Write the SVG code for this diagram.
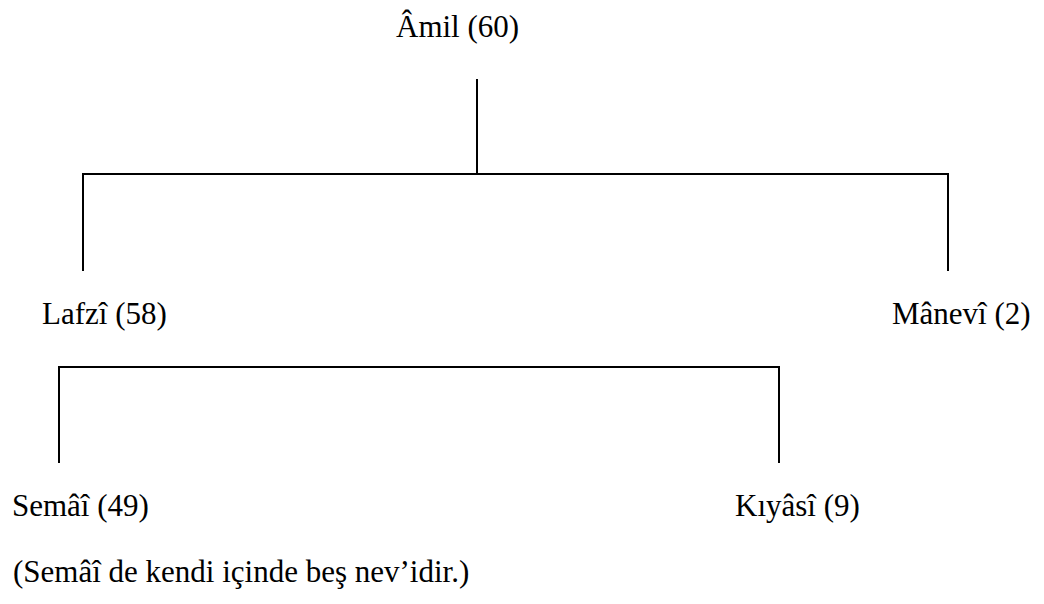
<svg xmlns="http://www.w3.org/2000/svg" width="1044" height="604" viewBox="0 0 1044 604">
<style>
.t{font-family:"Liberation Serif","Times New Roman",serif;font-size:31px;fill:#000}
.c{stroke:#000;stroke-width:2;fill:none;stroke-linecap:butt}
</style>
<rect width="1044" height="604" fill="#fff"/>
<g id="connectors">
<path class="c" d="M477 79V174"/>
<path class="c" d="M83 271V174H948V271"/>
<path class="c" d="M59 463V367H779V463"/>
</g>
<g id="amil"><text class="t" x="396" y="37">Âmil (60)</text></g>
<g id="lafzi"><text class="t" x="42" y="324">Lafzî (58)</text></g>
<g id="manevi"><text class="t" x="892" y="324">Mânevî (2)</text></g>
<g id="semai"><text class="t" x="12" y="516">Semâî (49)</text></g>
<g id="kiyasi"><text class="t" x="735" y="516">Kıyâsî (9)</text></g>
<g id="note"><text class="t" x="13" y="582">(Semâî de kendi içinde beş nev’idir.)</text></g>
</svg>
